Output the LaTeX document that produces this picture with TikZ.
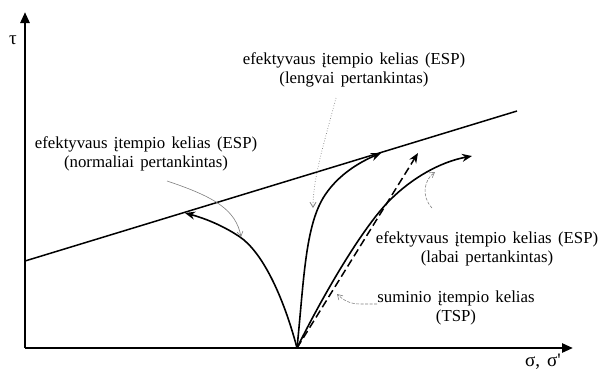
\documentclass[tikz,border=0pt]{standalone}
\usepackage{fontspec}
\setmainfont{Liberation Serif}[WordSpace=1.5]
\usetikzlibrary{arrows.meta}
\begin{document}
\begin{tikzpicture}[x=1pt,y=-1pt,
  lbl/.style={font=\fontsize{16.8}{19}\selectfont, align=center, inner sep=0pt},
  axisline/.style={line width=2.6pt, -{Triangle[length=11pt,width=9pt]}},
  pathline/.style={line width=1.6pt, -{Stealth[length=10pt,width=8pt]}},
  leader/.style={line width=0.6pt, gray, -{Straight Barb[length=5pt,width=6pt]}},
]
\useasboundingbox (0,0) rectangle (601,376);
% axes
\coordinate (corner) at (25,348);
\coordinate (ytop) at (25,12);
\coordinate (xend) at (573,348);
\draw[axisline] (corner) -- (ytop);
\draw[axisline] (corner) -- (xend);
\node[lbl, font=\fontsize{19}{19}\selectfont] (tau) at (13,40) {τ};
\node[lbl, font=\fontsize{19}{19}\selectfont] (sig) at (543,362) {σ, σ\textquotesingle};
% failure line
\coordinate (fl1) at (25,261);
\coordinate (fl2) at (517,111);
\draw[line width=1.5pt] (fl1) -- (fl2);
% origin
\coordinate (O) at (297,348);
% ESP normally consolidated
\draw[pathline] (O) .. controls (283,295) and (262,252) .. (240,237) .. controls (220,223.5) and (200,217) .. (185,213);
% ESP lightly overconsolidated
\draw[pathline] (O) .. controls (304,280) and (305,225) .. (325,195) .. controls (339,174) and (360,162) .. (381,153);
% ESP heavily overconsolidated
\draw[pathline] (O) .. controls (318,305) and (360,230) .. (390,200) .. controls (412,178) and (440,162) .. (472,156);
% TSP
\coordinate (tsp) at (418,153);
\draw[line width=1.5pt, dash pattern=on 8pt off 4pt, -{Stealth[length=10pt,width=8pt]}] (O) -- (tsp);
% labels
\node[lbl] (t1) at (146,154) {efektyvaus įtempio kelias (ESP)\\(normaliai pertankintas)};
\node[lbl] (t2) at (354,70) {efektyvaus įtempio kelias (ESP)\\(lengvai pertankintas)};
\node[lbl] (t3) at (487,249) {efektyvaus įtempio kelias (ESP)\\(labai pertankintas)};
\node[lbl] (t4) at (456,308) {suminio įtempio kelias\\(TSP)};
% leaders
\coordinate (a1) at (241,237);
\coordinate (s1) at (167,181);
\draw[leader] (s1) .. controls (215,197) and (236,210) .. (a1);
\coordinate (s2) at (336,98);
\coordinate (a2) at (313,208);
\draw[leader, dotted, line width=0.8pt] (s2) .. controls (322,150) and (313,180) .. (a2);
\coordinate (s3) at (432,208);
\coordinate (a3) at (435,172);
\draw[leader, dash pattern=on 3pt off 1.5pt] (s3) .. controls (421,196) and (424,180) .. (a3);
\coordinate (s4) at (377,304);
\coordinate (m4) at (360,304);
\coordinate (a4) at (337,294);
\draw[leader, dash pattern=on 3pt off 1.5pt] (s4) -- (m4) .. controls (350,304) and (343,300) .. (a4);
\end{tikzpicture}
\end{document}
